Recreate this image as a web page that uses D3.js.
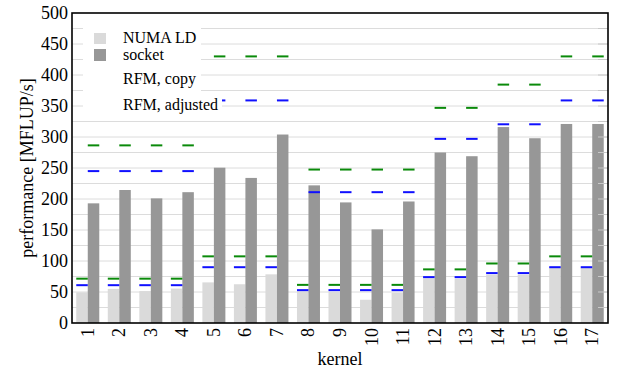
<!DOCTYPE html>
<html>
<head>
<meta charset="utf-8">
<script src="https://cdn.jsdelivr.net/npm/d3@7"></script>
</head>
<body style="margin:0">
<div id="chart"></div>
<script>
// kernel ids along the x axis
var kernels = ['1', '2', '3', '4', '5', '6', '7', '8', '9', '10', '11', '12', '13', '14', '15', '16', '17'];

// measured performance, MFLUP/s
var numaLD = [49.5, 55, 51.5, 55.5, 65.5, 62.5, 78.5, 51, 50, 37.5, 49, 72, 71.5, 78, 78, 89, 89];
var socket = [193, 214.5, 201, 211, 250.5, 234, 304, 222, 194.5, 151, 196, 275, 269, 316, 298, 321, 321];

// model predictions, one NUMA domain and full socket
var copyLD = [71.5, 71.5, 71.5, 71.5, 107.5, 107.5, 107.5, 61.5, 61.5, 61.5, 61.5, 86.5, 86.5, 96, 96, 107.5, 107.5];
var adjLD = [61, 61, 61, 61, 90, 90, 90, 53, 53, 53, 53, 74, 74, 80.5, 80.5, 90, 90];
var copySocket = [286.5, 286.5, 286.5, 286.5, 430, 430, 430, 247.5, 247.5, 247.5, 247.5, 347, 347, 384.5, 384.5, 430, 430];
var adjSocket = [245, 245, 245, 245, 359, 359, 359, 211, 211, 211, 211, 297, 297, 320.5, 320.5, 359, 359];

var yTicks = [0, 50, 100, 150, 200, 250, 300, 350, 400, 450, 500];
var yGrid = d3.range(25, 500, 25);
var legendLabels = ['NUMA LD', 'socket', 'RFM, copy', 'RFM, adjusted'];

var FONT = 'Liberation Serif';
var svg = d3.select('#chart').append('svg').attr('width', 617).attr('height', 371);

var x = d3.scaleBand().domain(kernels).range([72, 608]);
var y = d3.scaleLinear().domain([0, 500]).range([323, 13]);
var bw = 11.5;
var mid = function (i) { return x(kernels[i]) + x.bandwidth() / 2; };

// grid
svg.append('g').selectAll('line').data(yGrid).enter().append('line')
  .attr('x1', 72).attr('x2', 608)
  .attr('y1', function (d) { return y(d); }).attr('y2', function (d) { return y(d); })
  .attr('stroke', '#dcdcdc');

// bars
svg.append('g').selectAll('rect').data(numaLD).enter().append('rect')
  .attr('x', function (d, i) { return mid(i) - bw; }).attr('width', bw)
  .attr('y', function (d) { return y(d); }).attr('height', function (d) { return y(0) - y(d); })
  .attr('fill', '#dadada');
svg.append('g').selectAll('rect').data(socket).enter().append('rect')
  .attr('x', function (d, i) { return mid(i); }).attr('width', bw)
  .attr('y', function (d) { return y(d); }).attr('height', function (d) { return y(0) - y(d); })
  .attr('fill', '#979797');

// model dashes
function dashes(values, offset, color) {
  svg.append('g').selectAll('line').data(values).enter().append('line')
    .attr('x1', function (d, i) { return mid(i) + offset; })
    .attr('x2', function (d, i) { return mid(i) + offset + bw; })
    .attr('y1', function (d) { return y(d); }).attr('y2', function (d) { return y(d); })
    .attr('stroke', color).attr('stroke-width', 2);
}
dashes(copyLD, -bw, '#0a8a0a');
dashes(adjLD, -bw, '#1010ff');
dashes(copySocket, 0, '#0a8a0a');
dashes(adjSocket, 0, '#1010ff');

// right inner ticks
svg.append('g').selectAll('line').data(yGrid).enter().append('line')
  .attr('x1', 598).attr('x2', 608)
  .attr('y1', function (d) { return y(d); }).attr('y2', function (d) { return y(d); })
  .attr('stroke', '#c8c8c8');

// legend
svg.append('rect').attr('x', 83).attr('y', 14).attr('width', 118).attr('height', 102).attr('fill', '#fff');
svg.append('rect').attr('x', 83).attr('y', 95).attr('width', 139).attr('height', 21).attr('fill', '#fff');
svg.append('rect').attr('x', 94).attr('y', 33).attr('width', 12).attr('height', 11).attr('fill', '#dadada');
svg.append('rect').attr('x', 94).attr('y', 49).attr('width', 12).attr('height', 12).attr('fill', '#979797');
var baselines = [43, 60, 84, 110];
svg.append('g').selectAll('text').data(legendLabels).enter().append('text')
  .attr('x', 123).attr('y', function (d, i) { return baselines[i]; })
  .attr('font-family', FONT).attr('font-size', 16)
  .text(function (d) { return d; });

// frame
svg.append('rect').attr('x', 72).attr('y', 13).attr('width', 536).attr('height', 310)
  .attr('fill', 'none').attr('stroke', '#000').attr('stroke-width', 1.6);

// y tick labels
svg.append('g').selectAll('text').data(yTicks).enter().append('text')
  .attr('x', 68).attr('y', function (d) { return y(d) + 6; })
  .attr('text-anchor', 'end')
  .attr('font-family', FONT).attr('font-size', 18)
  .text(function (d) { return d; });

// x tick labels, reading upward
svg.append('g').selectAll('g').data(kernels).enter().append('g')
  .attr('transform', function (d) { return 'translate(' + (x(d) + x.bandwidth() / 2 + 6) + ',328) rotate(-90)'; })
  .append('text')
  .attr('text-anchor', 'end')
  .attr('font-family', FONT).attr('font-size', 18)
  .text(function (d) { return d; });

// axis titles
svg.append('text').attr('x', 340).attr('y', 365).attr('text-anchor', 'middle')
  .attr('font-family', FONT).attr('font-size', 18).text('kernel');
svg.append('g').attr('transform', 'translate(33,168) rotate(-90)')
  .append('text').attr('text-anchor', 'middle')
  .attr('font-family', FONT).attr('font-size', 18).text('performance [MFLUP/s]');
</script>
</body>
</html>
